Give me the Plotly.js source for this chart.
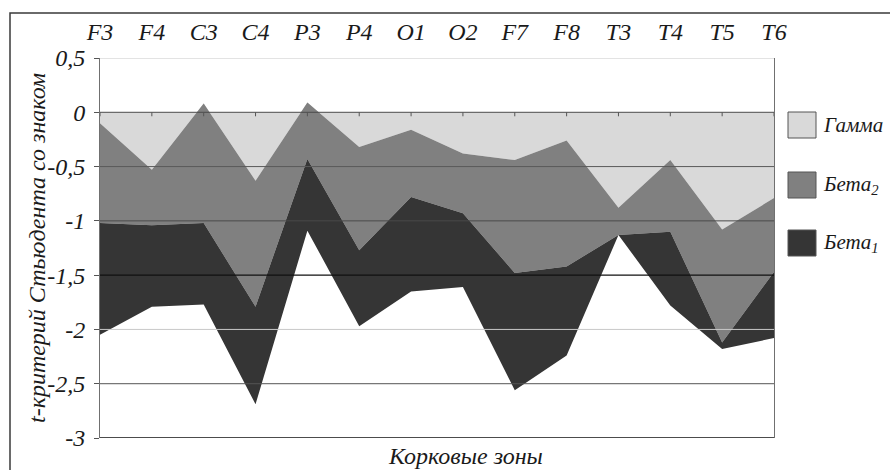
<!DOCTYPE html>
<html>
<head>
<meta charset="utf-8">
<script src="https://cdn.plot.ly/plotly-3.0.1.min.js"></script>
<style>html,body{margin:0;padding:0;background:#fff;}#chart{width:890px;height:470px;}</style>
</head>
<body>
<div id="chart"></div>
<script>
// ---- data ----
const categories = ['F3','F4','C3','C4','P3','P4','O1','O2','F7','F8','T3','T4','T5','T6'];
const gamma = [-0.10,-0.53, 0.08,-0.63, 0.09,-0.32,-0.16,-0.38,-0.44,-0.26,-0.88,-0.44,-1.08,-0.79];
const beta2 = [-0.92,-0.51,-1.10,-1.16,-0.52,-0.95,-0.62,-0.55,-1.04,-1.16,-0.25,-0.66,-1.04,-0.68];
const beta1 = [-1.03,-0.75,-0.75,-0.90,-0.66,-0.70,-0.87,-0.68,-1.08,-0.82, 0.00,-0.68,-0.06,-0.61];
const seriesNames = ['Гамма','Бета<sub>2</sub>','Бета<sub>1</sub>'];
const yTickVals = [-3,-2.5,-2,-1.5,-1,-0.5,0,0.5];
const yTickText = ['-3','-2,5','-2','-1,5','-1','-0,5','0','0,5'];
const xTitle = 'Корковые зоны';
const yTitle = 't-критерий Стьюдента со знаком';

// ---- style ----
const FONT = 'Liberation Serif';
const colors = ['#d9d9d9','#808080','#353535'];
const gridStyle = {0.5:'#c8c8c8', 0:'#4a4a4a', '-0.5':'#5a5a5a', '-1':'#4a4a4a', '-1.5':'#111111', '-2':'#c8c8c8', '-2.5':'#555555', '-3':'#111111'};
const M = {l:100, r:116, t:58, b:32};
const W = 890, H = 470;
const PW = W - M.l - M.r, PH = H - M.t - M.b;
const px = x => (x - M.l) / PW;
const py = y => (H - M.b - y) / PH;
const mkFont = (s) => ({family:FONT, size:s || 24, style:'italic', color:'#1a1a1a'});

const seriesVals = [gamma, beta2, beta1];
const traces = seriesVals.map((vals, i) => ({
  type:'scatter', mode:'lines', x:categories, y:vals, stackgroup:'one',
  name:seriesNames[i], line:{width:0, color:colors[i]}, fillcolor:colors[i],
  hoverinfo:'skip', showlegend:false
}));

const shapes = [];
// gridlines drawn over the areas
yTickVals.forEach(v => {
  shapes.push({type:'line', xref:'paper', yref:'y', x0:0, x1:1, y0:v, y1:v, layer:'above',
    line:{color:gridStyle[String(v)] || '#555', width:(v===-1.5||v===-3)?1.3:1}});
});
// small category ticks on the zero line
categories.forEach(c => {
  shapes.push({type:'line', xref:'x', yref:'y', ysizemode:'pixel', yanchor:0, x0:c, x1:c, y0:0, y1:-4,
    layer:'above', line:{color:'#555', width:1}});
});
// outer frame
shapes.push({type:'rect', xref:'paper', yref:'paper', x0:px(10), x1:px(900), y0:py(13), y1:py(480),
  line:{color:'#3a3a3a', width:1.5}, fillcolor:'rgba(0,0,0,0)', layer:'above'});

const annotations = [];
// legend
const legY = [125, 185, 243];
seriesNames.forEach((n, i) => {
  shapes.push({type:'rect', xref:'paper', yref:'paper', x0:px(788), x1:px(816), y0:py(legY[i]-13), y1:py(legY[i]+13),
    fillcolor:colors[i], line:{color:'#555', width:1}});
  annotations.push({xref:'paper', yref:'paper', x:px(821), y:py(legY[i]), xanchor:'left', yanchor:'middle',
    text:n, showarrow:false, font:mkFont(21)});
});
// axis titles
annotations.push({xref:'paper', yref:'paper', x:px(465), y:py(456), xanchor:'center', yanchor:'middle',
  text:xTitle, showarrow:false, font:mkFont(24)});
annotations.push({xref:'paper', yref:'paper', x:px(37), y:0.5, xanchor:'center', yanchor:'middle', textangle:-90,
  text:yTitle, showarrow:false, font:mkFont(24)});

const layout = {
  width:W, height:H, margin:M, paper_bgcolor:'#fff', plot_bgcolor:'#fff', showlegend:false,
  font:{family:FONT, size:24, color:'#1a1a1a'},
  xaxis:{type:'category', side:'top', range:[0, categories.length-1], showgrid:false, zeroline:false,
    showline:false, ticks:'', ticklabelstandoff:12, tickfont:mkFont(24)},
  yaxis:{range:[-3, 0.5], tickvals:yTickVals, ticktext:yTickText, showgrid:false, zeroline:false,
    showline:true, linecolor:'#707070', linewidth:1, mirror:true, ticks:'outside', ticklen:5, tickcolor:'#555',
    ticklabelstandoff:4, tickfont:mkFont(24)},
  shapes:shapes, annotations:annotations
};
Plotly.newPlot('chart', traces, layout, {staticPlot:true, displayModeBar:false});
</script>
</body>
</html>
